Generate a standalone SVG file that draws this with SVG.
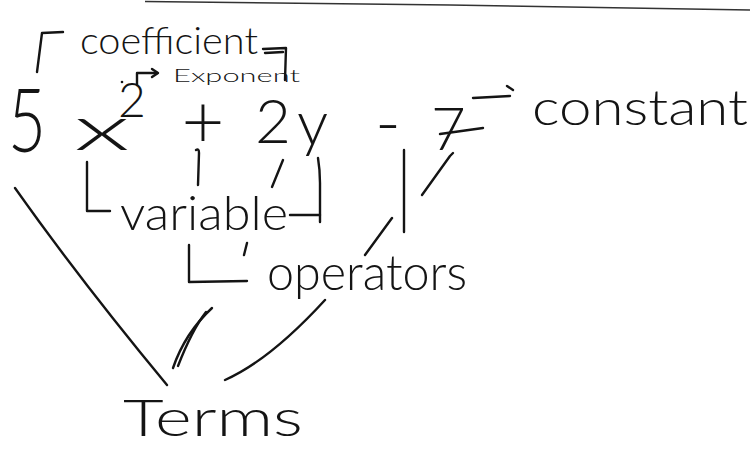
<svg xmlns="http://www.w3.org/2000/svg" width="750" height="450" viewBox="0 0 750 450">
<style>
text{font-family:"Lato","Open Sans","Liberation Sans",sans-serif;font-weight:300;fill:#141414}
.ln{fill:none;stroke:#141414;stroke-width:2.4;stroke-linecap:round;stroke-linejoin:round}
</style>
<rect width="750" height="450" fill="#ffffff"/>
<path d="M145,1.5 L450,5 L750,10" fill="none" stroke="#333" stroke-width="1.6"/>
<g id="expression">
<text x="8" y="152" font-size="89" textLength="38" lengthAdjust="spacingAndGlyphs">5</text>
<text x="74" y="150" font-size="64" textLength="56" lengthAdjust="spacingAndGlyphs">x</text>
<text x="118" y="117" font-size="48">2</text>
<text x="203" y="148" font-size="74" text-anchor="middle">+</text>
<text x="255" y="143" font-size="62">2</text>
<text x="297" y="145" font-size="62">y</text>
<text x="375" y="148" font-size="70">-</text>
<text x="431" y="150" font-size="60">7</text>
</g>
<g id="coefficient">
<text x="80" y="54" font-size="37" textLength="178" lengthAdjust="spacingAndGlyphs">coefficient</text>
</g>
<g id="exponent">
<text x="173" y="82" font-size="18" textLength="127" lengthAdjust="spacingAndGlyphs">Exponent</text>
</g>
<g id="constant">
<text x="532" y="125" font-size="50" textLength="216" lengthAdjust="spacingAndGlyphs">constant</text>
</g>
<g id="variable">
<text x="120" y="230" font-size="48" textLength="168" lengthAdjust="spacingAndGlyphs">variable</text>
</g>
<g id="operators">
<text x="267" y="290" font-size="50" textLength="200" lengthAdjust="spacingAndGlyphs">operators</text>
</g>
<g id="terms">
<text x="123" y="436" font-size="52" textLength="180" lengthAdjust="spacingAndGlyphs">Terms</text>
</g>
<g id="connectors" class="ln">
<path d="M63,32 L42,33 L37,72"/>
<path d="M263,49 L286,48 L285,80"/>
<path d="M265,53 L283,52"/>
<circle cx="122" cy="82" r="1.3" fill="#141414" stroke="none"/>
<path d="M137,85 V73 H157"/>
<path d="M152,69 L158,73 L152,77"/>
<path d="M473,98 L510,96"/>
<path d="M507,86 L513,90"/>
<path d="M440,134 L483,128"/>
<path d="M196,150 Q199,148 199,153 L198,185"/>
<path d="M272,187 L283,160"/>
<path d="M318,158 Q320,170 320,183 L320,222"/>
<path d="M290,215 L320,215"/>
<path d="M87,162 L87,211 L110,211"/>
<path d="M404,150 L404,232"/>
<path d="M422,195 L450,156 L453,153"/>
<path d="M365,255 L392,218"/>
<path d="M247,243 L244,255"/>
<path d="M189,245 L189,282 L247,281"/>
<path d="M15,188 Q80,280 167,385"/>
<path d="M173,368 Q185,333 212,308"/>
<path d="M178,366 Q192,330 206,312"/>
<path d="M225,380 Q270,360 325,300"/>
</g>
</svg>
